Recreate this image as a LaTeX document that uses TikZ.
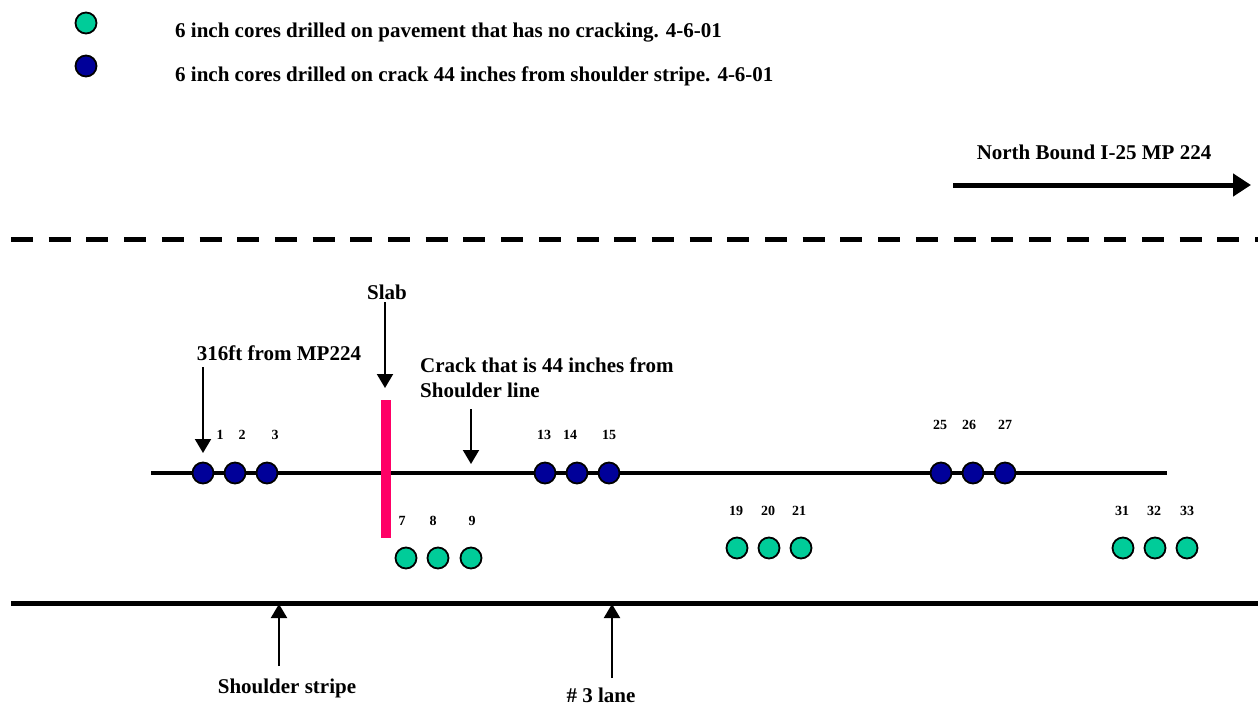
\documentclass[tikz,border=0pt]{standalone}
\usepackage{fontspec}
\setmainfont{Liberation Serif}
\usetikzlibrary{arrows.meta}
\definecolor{coreteal}{HTML}{00CC99}
\definecolor{corenavy}{HTML}{000099}
\definecolor{slabred}{HTML}{FF0066}
\tikzset{
  core/.style={circle, draw=black, line width=1.8pt, minimum size=21pt, inner sep=0pt},
  tealcore/.style={core, fill=coreteal},
  navycore/.style={core, fill=corenavy},
  lbl/.style={font=\bfseries\fontsize{21}{25}\selectfont, inner sep=0pt},
  num/.style={font=\bfseries\fontsize{14}{16}\selectfont, inner sep=0pt},
  ptr/.style={line width=2pt, -{Triangle[width=16pt,length=14pt]}},
  road/.style={line width=5pt},
}
\begin{document}
\begin{tikzpicture}[x=1pt,y=-1pt]
\useasboundingbox (0,0) rectangle (1258,706);

% legend
\node[tealcore] (legT) at (86,23) {};
\node[navycore] (legN) at (86,66) {};
\node[lbl, anchor=west] (legTtxt) at (175,33) {6 inch cores drilled on pavement that has no cracking. 4-6-01};
\node[lbl, anchor=west] (legNtxt) at (175,76) {6 inch cores drilled on crack 44 inches from shoulder stripe. 4-6-01};

% direction of travel
\node[lbl] (dir) at (1094,152) {North Bound I-25 MP 224};
\coordinate (dirA) at (953,185);
\coordinate (dirB) at (1251,185);
\draw[line width=5pt, -{Triangle[width=22pt,length=18pt]}] (dirA) -- (dirB);

% lane lines
\coordinate (dashL) at (11,239);
\coordinate (dashR) at (1258,239);
\draw[road, dash pattern=on 22pt off 15.7pt] (dashL) -- (dashR);
\coordinate (botL) at (11,603);
\coordinate (botR) at (1258,603);
\draw[road] (botL) -- (botR);
\coordinate (crL) at (151,473);
\coordinate (crR) at (1167,473);
\draw[line width=4pt] (crL) -- (crR);

% slab joint
\node[fill=slabred, minimum width=10pt, minimum height=138pt, inner sep=0pt] (slab) at (386,469) {};

% cores on the crack
\node[navycore] (c1)  at (203,473) {};
\node[navycore] (c2)  at (235,473) {};
\node[navycore] (c3)  at (267,473) {};
\node[navycore] (c13) at (545,473) {};
\node[navycore] (c14) at (577,473) {};
\node[navycore] (c15) at (609,473) {};
\node[navycore] (c25) at (941,473) {};
\node[navycore] (c26) at (973,473) {};
\node[navycore] (c27) at (1005,473) {};

% cores on uncracked pavement
\node[tealcore] (c7)  at (406,558) {};
\node[tealcore] (c8)  at (438,558) {};
\node[tealcore] (c9)  at (471,558) {};
\node[tealcore] (c19) at (737,548) {};
\node[tealcore] (c20) at (769,548) {};
\node[tealcore] (c21) at (801,548) {};
\node[tealcore] (c31) at (1123,548) {};
\node[tealcore] (c32) at (1155,548) {};
\node[tealcore] (c33) at (1187,548) {};

% core numbers
\node[num] at (220,435) {1};
\node[num] at (242,435) {2};
\node[num] at (275,435) {3};
\node[num] at (544,435) {13};
\node[num] at (570,435) {14};
\node[num] at (609,435) {15};
\node[num] at (940,425) {25};
\node[num] at (969,425) {26};
\node[num] at (1005,425) {27};
\node[num] at (402,521) {7};
\node[num] at (433,521) {8};
\node[num] at (472,521) {9};
\node[num] at (736,511) {19};
\node[num] at (768,511) {20};
\node[num] at (799,511) {21};
\node[num] at (1122,511) {31};
\node[num] at (1154,511) {32};
\node[num] at (1187,511) {33};

% callouts
\node[lbl] (start) at (279,353) {316ft from MP224};
\coordinate (startTip) at (203,453);
\draw[ptr] (203,367) -- (startTip);

\node[lbl] (slabLbl) at (387,292) {Slab};
\coordinate (slabTip) at (385,388);
\draw[ptr] (385,302) -- (slabTip);

\node[lbl, anchor=west, align=left] (crack) at (420,378) {Crack that is 44 inches from\\Shoulder line};
\coordinate (crackTip) at (471,464);
\draw[ptr] (471,409) -- (crackTip);

\node[lbl] (shoulder) at (287,688) {Shoulder stripe};
\coordinate (shTip) at (279,604);
\draw[ptr] (279,666) -- (shTip);

\node[lbl] (lane) at (601,695) {\# 3 lane};
\coordinate (laneTip) at (612,604);
\draw[ptr] (612,678) -- (laneTip);
\end{tikzpicture}
\end{document}
